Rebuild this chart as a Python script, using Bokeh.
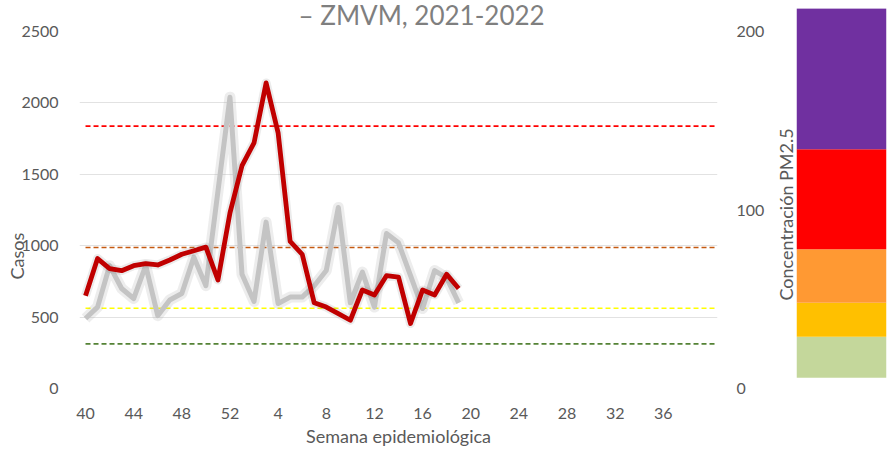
import math
from bokeh.plotting import figure
from bokeh.models import Range1d, LinearAxis, FixedTicker, ColumnDataSource, Title
from bokeh.layouts import row
from bokeh.embed import file_html
from bokeh.resources import INLINE

# ---- data ----
weeks = list(range(40, 53)) + list(range(1, 41))  # epidemiological weeks 2021-2022
casos_2021_2022 = [650, 910, 840, 825, 860, 875, 865, 900, 940, 965, 990, 760, 1230,
                   1560, 1720, 2140, 1790, 1030, 940, 600, 570, 525, 478, 690, 655,
                   790, 780, 455, 690, 655, 800, 700]
casos_gris = [490, 570, 860, 700, 630, 860, 510, 620, 665, 920, 720, 1380, 2040,
              800, 610, 1165, 595, 640, 640, 720, 826, 1268, 600, 815, 570,
              1085, 1020, 790, 560, 826, 775, 600]
left_ticks = [0, 500, 1000, 1500, 2000, 2500]
pm_ticks = [0, 100, 200]
pm_thresholds = [25, 45, 79, 147]
pm_threshold_colors = ["#548235", "#FFFF00", "#C55A11", "#FF0000"]
band_edges = [6, 29, 48, 78, 134, 213]
band_colors = ["#C4D79B", "#FFC000", "#FF9933", "#FF0000", "#7030A0"]
title_text = "– ZMVM, 2021-2022"

FONT = "Lato"
TXT = "#595959"
H = 455
W_MAIN = 770
W_BAR = 118

p = figure(width=W_MAIN, height=H, output_backend="svg", toolbar_location=None,
           x_range=Range1d(-0.5, len(weeks) - 0.5), y_range=Range1d(0, 2500),
           min_border_left=79, min_border_right=53, min_border_top=31, min_border_bottom=67)
p.frame_align = False
p.extra_y_ranges = {"pm": Range1d(0, 200)}
right_axis = LinearAxis(y_range_name="pm", ticker=FixedTicker(ticks=pm_ticks))
p.add_layout(right_axis, "right")
left_axis = p.yaxis[0]
left_axis.ticker = FixedTicker(ticks=left_ticks)
bottom_axis = p.xaxis[0]

p.outline_line_color = None
p.background_fill_color = "white"
p.border_fill_color = "white"

bottom_axis.ticker = FixedTicker(ticks=list(range(0, len(weeks) - 1, 4)))
bottom_axis.major_label_overrides = {i: str(w) for i, w in enumerate(weeks)}
left_axis.major_label_standoff = 21
right_axis.major_label_standoff = 19
bottom_axis.major_label_standoff = 19
for ax in p.axis:
    ax.axis_line_color = None
    ax.major_tick_line_color = None
    ax.minor_tick_line_color = None
    ax.major_tick_out = 0
    ax.major_label_text_font = FONT
    ax.major_label_text_font_size = "16px"
    ax.major_label_text_color = TXT
    ax.axis_label_text_font = FONT
    ax.axis_label_text_font_style = "normal"
    ax.axis_label_text_color = TXT

bottom_axis.axis_label = "Semana epidemiológica"
bottom_axis.axis_label_standoff = 3
bottom_axis.axis_label_text_font_size = "18px"

# chart title (its top is cut in the source image)
p.title.text = title_text
p.title.align = "left"
p.title.offset = 219
p.title.text_font = FONT
p.title.text_font_style = "normal"
p.title.text_font_size = "26px"
p.title.text_color = "#7f7f7f"
p.title.standoff = -3
p.title.vertical_align = "top"

casos_title = Title(text="Casos", align="left", offset=109, standoff=-18,
                    text_font=FONT, text_font_size="18px", text_font_style="normal",
                    text_color=TXT)
p.add_layout(casos_title, "left")

p.xgrid.grid_line_color = None
p.ygrid.grid_line_color = "#e2e2e2"
p.ygrid.grid_line_width = 1.2

# threshold lines (right axis)
x_thr = [0, len(weeks) - 0.5]
for t, c in zip(pm_thresholds, pm_threshold_colors):
    p.line(x=x_thr, y=[t, t], y_range_name="pm", line_color=c, line_width=1.6,
           line_dash="5 3")

idx = list(range(len(casos_gris)))
src = ColumnDataSource(dict(x=idx, gris=casos_gris, rojo=casos_2021_2022))
# soft shadows
p.line("x", "gris", source=src, line_color="#9a9a9a", line_alpha=0.18, line_width=11,
       line_join="round")
p.line("x", "gris", source=src, line_color="#c4c4c4", line_width=5, line_join="round")
p.line("x", "rojo", source=src, line_color="#777777", line_alpha=0.15, line_width=9,
       line_join="round")
p.line("x", "rojo", source=src, line_color="#C00000", line_width=4.8, line_join="round")

# colour legend bar with the PM2.5 label
pm_top = 200 * 380 / 357
pb = figure(width=W_BAR, height=H, output_backend="svg", toolbar_location=None,
            x_range=Range1d(0, 1), y_range=Range1d(0, pm_top),
            x_axis_location=None, y_axis_location=None,
            min_border_left=26, min_border_right=2, min_border_top=8, min_border_bottom=67)
pb.frame_align = False
pb.outline_line_color = None
pb.grid.visible = False
pb.background_fill_color = "white"
pb.border_fill_color = "white"
pb.quad(left=0, right=1, bottom=band_edges[:-1], top=band_edges[1:],
        fill_color=band_colors, line_color=None)
pm_title = Title(text="Concentración PM2.5", align="left", offset=88, standoff=0,
                 text_font=FONT, text_font_size="18px", text_font_style="normal",
                 text_color=TXT)
pb.add_layout(pm_title, "left")

layout = row(p, pb)
open("out.html", "w").write(file_html(layout, INLINE))
